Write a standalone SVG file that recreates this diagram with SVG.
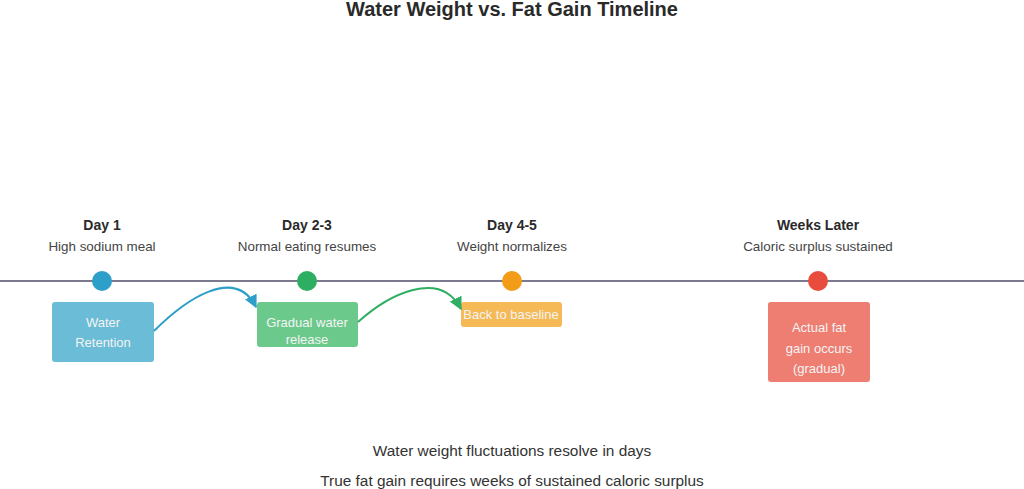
<svg xmlns="http://www.w3.org/2000/svg" width="1024" height="489" viewBox="0 0 1024 489">
<style>
text{font-family:"Liberation Sans",Arial,sans-serif;fill:#333;text-anchor:middle}
.title{font-size:20px;font-weight:bold;fill:#2a2a2a}
.head{font-size:14px;font-weight:bold;fill:#2a2a2a}
.sub{font-size:13.4px;fill:#444}
.box{font-size:13px;fill:#f4f4f4}
.foot{font-size:15.4px;fill:#333}
.conn{fill:none;stroke-width:2}
</style>
<defs>
<marker id="aBlue" viewBox="0 0 10 10" refX="9" refY="5" markerWidth="6.5" markerHeight="6.5" orient="auto" markerUnits="strokeWidth"><path d="M0,0 L10,5 L0,10 z" fill="#2e9fc8"/></marker>
<marker id="aGreen" viewBox="0 0 10 10" refX="9" refY="5" markerWidth="6.5" markerHeight="6.5" orient="auto" markerUnits="strokeWidth"><path d="M0,0 L10,5 L0,10 z" fill="#2eae62"/></marker>
</defs>
<rect width="1024" height="489" fill="#fff"/>
<text class="title" x="512" y="16">Water Weight vs. Fat Gain Timeline</text>
<line x1="0" y1="281" x2="1024" y2="281" stroke="#7b7a8e" stroke-width="2"/>
<g id="day1">
<text class="head" x="102" y="230">Day 1</text>
<text class="sub" x="102" y="251">High sodium meal</text>
<circle cx="102" cy="281" r="10" fill="#2e9fc8"/>
<rect x="52" y="302" width="102" height="60" rx="3" fill="#6bbcd6"/>
<text class="box" x="103" y="327">Water</text>
<text class="box" x="103" y="347">Retention</text>
</g>
<g id="day23">
<text class="head" x="307" y="230">Day 2-3</text>
<text class="sub" x="307" y="251">Normal eating resumes</text>
<circle cx="307" cy="281" r="10" fill="#2eae62"/>
<rect x="257" y="302" width="101" height="45" rx="3" fill="#6cc98c"/>
<text class="box" x="307" y="327">Gradual water</text>
<text class="box" x="307" y="344">release</text>
</g>
<g id="day45">
<text class="head" x="512" y="230">Day 4-5</text>
<text class="sub" x="512" y="251">Weight normalizes</text>
<circle cx="512" cy="281" r="10" fill="#f39c1a"/>
<rect x="461" y="302" width="101" height="25" rx="3" fill="#f5b955"/>
<text class="box" x="511" y="319">Back to baseline</text>
</g>
<g id="weeks">
<text class="head" x="818" y="230">Weeks Later</text>
<text class="sub" x="818" y="251">Caloric surplus sustained</text>
<circle cx="818" cy="281" r="10" fill="#e74c3c"/>
<rect x="768" y="302" width="102" height="80" rx="3" fill="#ee7d72"/>
<text class="box" x="819" y="332">Actual fat</text>
<text class="box" x="819" y="353">gain occurs</text>
<text class="box" x="819" y="373">(gradual)</text>
</g>
<g id="connectors">
<path class="conn" d="M154,331 C185,300 235,265 256,307" stroke="#2e9fc8" marker-end="url(#aBlue)"/>
<path class="conn" d="M358,322 C388,295 440,268 461,309" stroke="#2eae62" marker-end="url(#aGreen)"/>
</g>
<text class="foot" x="512" y="456">Water weight fluctuations resolve in days</text>
<text class="foot" x="512" y="486">True fat gain requires weeks of sustained caloric surplus</text>
</svg>
